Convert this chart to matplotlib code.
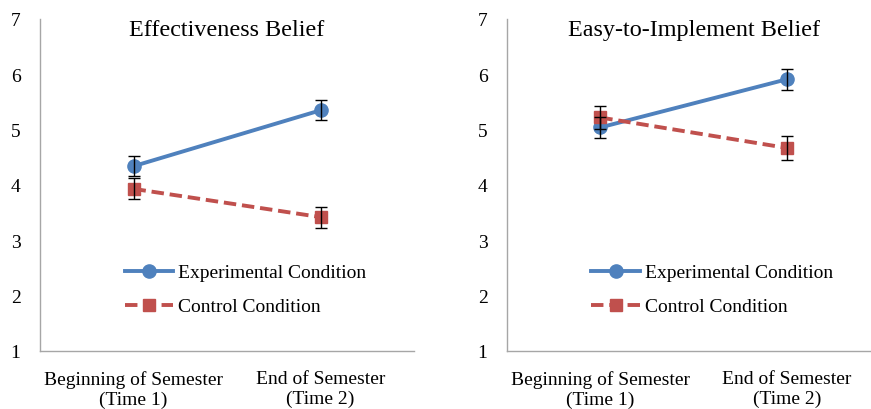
import matplotlib
matplotlib.use("Agg")
from matplotlib import pyplot as plt

plt.rcParams['font.family'] = ['Liberation Serif', 'DejaVu Serif']

times = ["Beginning of Semester\n(Time 1)", "End of Semester\n(Time 2)"]
titles = ["Effectiveness Belief", "Easy-to-Implement Belief"]

# panel 1: effectiveness
eff_exp = [4.34, 5.35]
eff_exp_err = [0.18, 0.18]
eff_ctrl = [3.93, 3.42]
eff_ctrl_err = [0.19, 0.19]

# panel 2: easy to implement
easy_exp = [5.04, 5.91]
easy_exp_err = [0.19, 0.19]
easy_ctrl = [5.22, 4.67]
easy_ctrl_err = [0.21, 0.21]

blue = "#4F81BD"
red = "#C0504D"
axis_gray = "#A6A6A6"

fig = plt.figure(figsize=(8.71, 4.10), dpi=100)
ax1 = fig.add_axes([40 / 871, 58 / 410, 374 / 871, 332 / 410])
ax2 = fig.add_axes([507 / 871, 58 / 410, 373 / 871, 332 / 410])

panels = [
    (ax1, eff_exp, eff_exp_err, eff_ctrl, eff_ctrl_err),
    (ax2, easy_exp, easy_exp_err, easy_ctrl, easy_ctrl_err),
]

for i, (ax, exp, exp_err, ctrl, ctrl_err) in enumerate(panels):
    x = [0, 1]
    ax.plot(x, exp, color=blue, lw=2.8, marker="o", ms=9.5, label="Experimental Condition", zorder=3)
    ax.plot(x, ctrl, color=red, lw=2.8, ls=(0, (3.2, 1.5)), marker="s", ms=8.5,
            label="Control Condition", zorder=3)
    ax.errorbar(x, exp, yerr=exp_err, fmt="none", ecolor="black", elinewidth=1,
                capsize=4, capthick=1, zorder=4)
    ax.errorbar(x, ctrl, yerr=ctrl_err, fmt="none", ecolor="black", elinewidth=1,
                capsize=4, capthick=1, zorder=4)

    ax.set_xlim(-0.5, 1.5)
    ax.set_ylim(1, 7)
    ax.set_yticks(range(1, 8))
    ax.set_xticks(x)
    ax.set_xticklabels(times, fontsize=14, linespacing=1.2)
    ax.tick_params(axis="both", length=0, labelsize=14)
    ax.tick_params(axis="y", pad=14)
    ax.tick_params(axis="x", pad=14)
    for s in ["top", "right"]:
        ax.spines[s].set_visible(False)
    for s in ["left", "bottom"]:
        ax.spines[s].set_color(axis_gray)
        ax.spines[s].set_linewidth(1)

    ax.text(0.5, 1.0, titles[i], transform=ax.transAxes, ha="center", va="top", fontsize=17.4)

    ax.legend(loc="center left", bbox_to_anchor=(0.2, 0.185), frameon=False, fontsize=14,
              handlelength=2.5, handletextpad=0.25, labelspacing=0.85, borderpad=0)

fig.savefig("out.png", dpi=100)
